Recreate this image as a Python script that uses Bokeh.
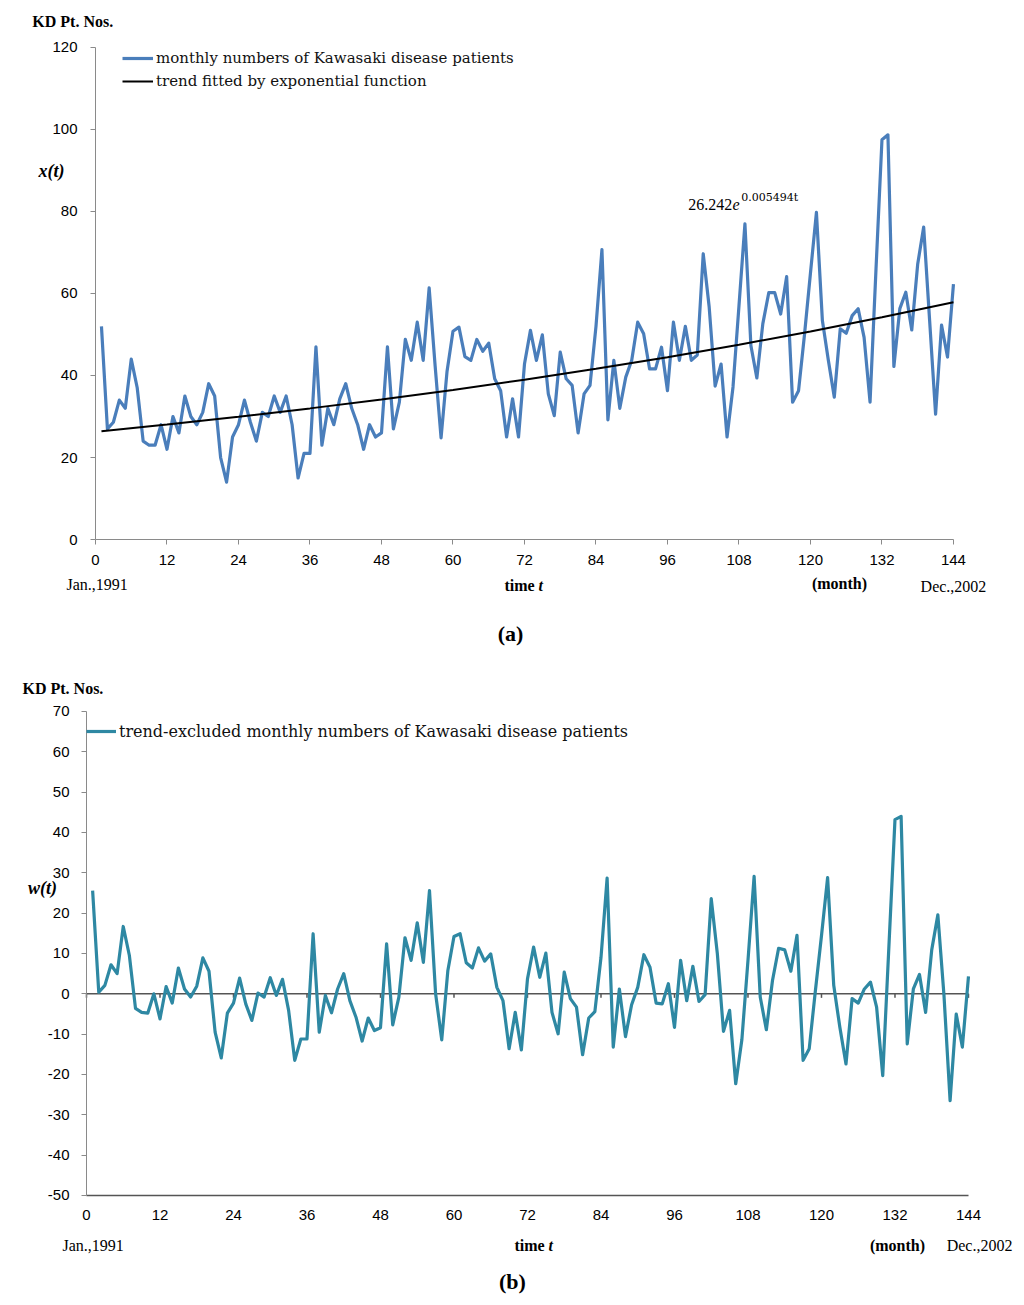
from bokeh.plotting import figure
from bokeh.models import Range1d, FixedTicker, Label, Legend, LegendItem
from bokeh.embed import file_html
from bokeh.resources import INLINE

# ---------------- data ----------------
months = list(range(1, 145))

kd_monthly = [
    52, 27, 28.6, 34, 32, 44, 37, 24, 23, 23, 28, 22,
    30, 26, 35, 30, 28, 31, 38, 35, 20, 14, 25, 28,
    34, 28.6, 24, 31, 30, 35, 31, 35, 28, 15, 21, 21,
    47, 23, 32, 28, 34.3, 38, 32, 28, 22, 28, 25, 26,
    47, 27, 33.5, 48.8, 43.7, 53, 43.7, 61.4, 42.4, 24.8, 41, 50.8,
    51.8, 44.6, 43.7, 48.8, 45.9, 47.9, 39.2, 36.3, 25, 34.3, 25, 42.8,
    51, 43.7, 49.9, 35.5, 30.2, 45.7, 39.2, 37.6, 26, 35.5, 37.6, 52,
    70.7, 29.2, 43.7, 32, 39.6, 43.7, 53, 50.2, 41.6, 41.6, 46.9, 36.3,
    53, 43.7, 52, 43.7, 45, 69.7, 56.7, 37.4, 42.8, 25, 37.2, 57,
    77, 47.3, 39.4, 52.6, 60.2, 60.2, 55, 64.1, 33.5, 36.3, 50, 65,
    79.8, 53.4, 43.7, 34.7, 51.4, 50.3, 54.6, 56.3, 49.3, 33.5, 66, 97.5,
    98.7, 42.2, 56.3, 60.3, 51.1, 67.2, 76.2, 53.4, 30.6, 52.3, 44.5, 62.3,
]

trend_months = [1, 12, 24, 36, 48, 60, 72, 84, 96, 108, 120, 132, 144]
trend_values = [26.39, 28.03, 29.94, 31.98, 34.16, 36.49, 38.97, 41.63,
                44.47, 47.50, 50.74, 54.19, 57.89]

w_values = [
    25.6, 0.4, 2.1, 7.2, 5, 16.7, 9.5, -3.6, -4.6, -4.8, 0, -6.2,
    1.8, -2.3, 6.4, 1.2, -0.8, 1.9, 8.9, 5.6, -9.5, -15.9, -4.8, -2.3,
    3.9, -2.5, -6.6, 0.2, -0.8, 4, -0.4, 3.6, -4.1, -16.5, -11.2, -11.2,
    14.9, -9.5, -0.4, -4.7, 1.2, 5, -1.7, -5.8, -11.7, -6, -9.1, -8.4,
    12.4, -7.7, -0.8, 13.9, 8.3, 17.6, 7.8, 25.6, 0, -11.4, 5.8, 14.2,
    14.9, 7.7, 6.4, 11.4, 8.1, 9.9, 1.6, -1.7, -13.6, -4.6, -13.9, 3.7,
    11.6, 4.1, 10.1, -4.6, -9.9, 5.4, -1.2, -3.3, -15.1, -6, -4.4, 9,
    28.7, -13.2, 1.2, -10.6, -2.7, 1.6, 9.7, 6.6, -2.3, -2.5, 2.5, -8.3,
    8.3, -1.7, 6.8, -1.9, -0.2, 23.6, 9.9, -9.3, -4.1, -22.3, -11.4, 8.3,
    29.1, -0.8, -8.9, 3.3, 11.3, 10.9, 5.6, 14.5, -16.5, -13.6, 0.7, 14.4,
    28.8, 2.1, -8.3, -17.4, -1.2, -2.3, 1.2, 2.9, -3.3, -20.3, 11.5, 43.2,
    44, -12.4, 1.2, 4.8, -4.6, 10.9, 19.6, -0.4, -26.5, -5, -13.2, 4.3,
]

x_ticks = [0, 12, 24, 36, 48, 60, 72, 84, 96, 108, 120, 132, 144]
top_y_ticks = [0, 20, 40, 60, 80, 100, 120]
bot_y_ticks = [-50, -40, -30, -20, -10, 0, 10, 20, 30, 40, 50, 60, 70]

BLUE = "#4A7EBB"
TEAL = "#2E88A3"
AXIS_GREY = "#8A8A8A"
SERIF = "Liberation Serif"
SANS = "Liberation Sans"
LEG_FONT = "DejaVu Serif"


def style_axes(p):
    p.grid.visible = False
    p.outline_line_color = None
    for ax in (p.xaxis[0], p.yaxis[0]):
        ax.axis_line_color = AXIS_GREY
        ax.major_tick_line_color = AXIS_GREY
        ax.minor_tick_line_color = None
        ax.major_tick_in = 0
        ax.major_tick_out = 5
        ax.major_label_text_font = SANS
        ax.major_label_text_font_size = "15px"
        ax.major_label_text_color = "#000000"


def add_text(p, x, y, text, size="16px", style="normal", align="left", font=SERIF):
    p.add_layout(Label(x=x, y=y, text=text, text_font=font, text_font_size=size,
                       text_font_style=style, text_align=align,
                       text_baseline="middle", text_color="#000000"))


# ---------------- (a) ----------------
# the frame fills the whole canvas; axes are pinned inside it
p1 = figure(width=1016, height=660, output_backend="svg", toolbar_location=None,
            x_range=Range1d(-15.945, 154.58), y_range=Range1d(-29.51, 131.46),
            min_border=0)
style_axes(p1)
p1.xaxis.ticker = FixedTicker(ticks=x_ticks)
p1.yaxis.ticker = FixedTicker(ticks=top_y_ticks)
p1.xaxis.fixed_location = top_y_ticks[0]
p1.yaxis.fixed_location = x_ticks[0]
p1.xaxis.bounds = (x_ticks[0], x_ticks[-1])
p1.yaxis.bounds = (top_y_ticks[0], top_y_ticks[-1])
p1.xaxis.major_label_standoff = 10
p1.yaxis.major_label_standoff = 13

r_kd = p1.line(months, kd_monthly, line_color=BLUE, line_width=3.2, line_join="round")
r_tr = p1.line(trend_months, trend_values, line_color="#000000", line_width=2)

leg1 = Legend(items=[LegendItem(label="monthly numbers of Kawasaki disease patients", renderers=[r_kd]),
                     LegendItem(label="trend fitted by exponential function", renderers=[r_tr])],
              location=(122, 569), glyph_width=31, glyph_height=20, label_height=20,
              label_standoff=3, spacing=3, padding=0, margin=0,
              border_line_alpha=0, background_fill_alpha=0,
              label_text_font=LEG_FONT, label_text_font_size="15px",
              label_text_color="#111111")
p1.add_layout(leg1)

add_text(p1, -10.6, 126.3, "KD Pt. Nos.", size="16px", style="bold")
add_text(p1, -7.4, 89.8, "x(t)", size="18px", style="bold italic", align="center")
add_text(p1, -4.87, -10.86, "Jan.,1991", size="16px")
add_text(p1, 68.64, -11.1, "time", size="16px", style="bold")
add_text(p1, 74.35, -11.1, "t", size="16px", style="bold italic")
add_text(p1, 124.87, -10.7, "(month)", size="16px", style="bold", align="center")
add_text(p1, 144.0, -11.46, "Dec.,2002", size="16px", align="center")
add_text(p1, 69.65, -22.93, "(a)", size="22px", style="bold", align="center")

add_text(p1, 99.5, 81.7, "26.242", size="16px")
add_text(p1, 106.9, 81.7, "e", size="16px", style="italic")
add_text(p1, 108.4, 83.4, "0.005494t", size="11px", font=LEG_FONT)

# ---------------- (b) ----------------
p2 = figure(width=1016, height=637, output_backend="svg", toolbar_location=None,
            x_range=Range1d(-14.04, 151.84), y_range=Range1d(-75.29, 82.64),
            min_border=0)
style_axes(p2)
p2.xaxis.ticker = FixedTicker(ticks=x_ticks)
p2.yaxis.ticker = FixedTicker(ticks=bot_y_ticks)
p2.yaxis.major_label_overrides = {v: str(v) for v in bot_y_ticks}
p2.xaxis.fixed_location = bot_y_ticks[0]
p2.yaxis.fixed_location = x_ticks[0]
p2.xaxis.bounds = (x_ticks[0], x_ticks[-1])
p2.yaxis.bounds = (bot_y_ticks[0], bot_y_ticks[-1])
p2.xaxis.major_tick_out = 0
p2.xaxis.axis_line_color = "#555555"
p2.xaxis.axis_line_width = 1.5
p2.xaxis.major_label_standoff = 15
p2.yaxis.major_label_standoff = 12

# zero line with small tick marks
p2.line([x_ticks[0], x_ticks[-1]], [0, 0], line_color="#555555", line_width=1.5)
p2.segment(x0=x_ticks, y0=[0] * len(x_ticks), x1=x_ticks, y1=[-1] * len(x_ticks),
           line_color="#555555", line_width=1.5)

r_w = p2.line(months, w_values, line_color=TEAL, line_width=3.2, line_join="round")
leg2 = Legend(items=[LegendItem(label="trend-excluded monthly numbers of Kawasaki disease patients",
                                renderers=[r_w])],
              location=(86, 556), glyph_width=30, glyph_height=20, label_height=20,
              label_standoff=3, padding=0, margin=0,
              border_line_alpha=0, background_fill_alpha=0,
              label_text_font=LEG_FONT, label_text_font_size="16px",
              label_text_color="#111111")
p2.add_layout(leg2)

add_text(p2, -10.45, 75.7, "KD Pt. Nos.", size="16px", style="bold")
add_text(p2, -7.2, 26.2, "w(t)", size="18px", style="bold italic", align="center")
add_text(p2, -3.92, -62.4, "Jan.,1991", size="16px")
add_text(p2, 69.88, -62.4, "time", size="16px", style="bold")
add_text(p2, 75.43, -62.4, "t", size="16px", style="bold italic")
add_text(p2, 132.4, -62.4, "(month)", size="16px", style="bold", align="center")
add_text(p2, 145.8, -62.4, "Dec.,2002", size="16px", align="center")
add_text(p2, 69.55, -71.32, "(b)", size="22px", style="bold", align="center")

open("out.html", "w").write(file_html([p1, p2], INLINE))
